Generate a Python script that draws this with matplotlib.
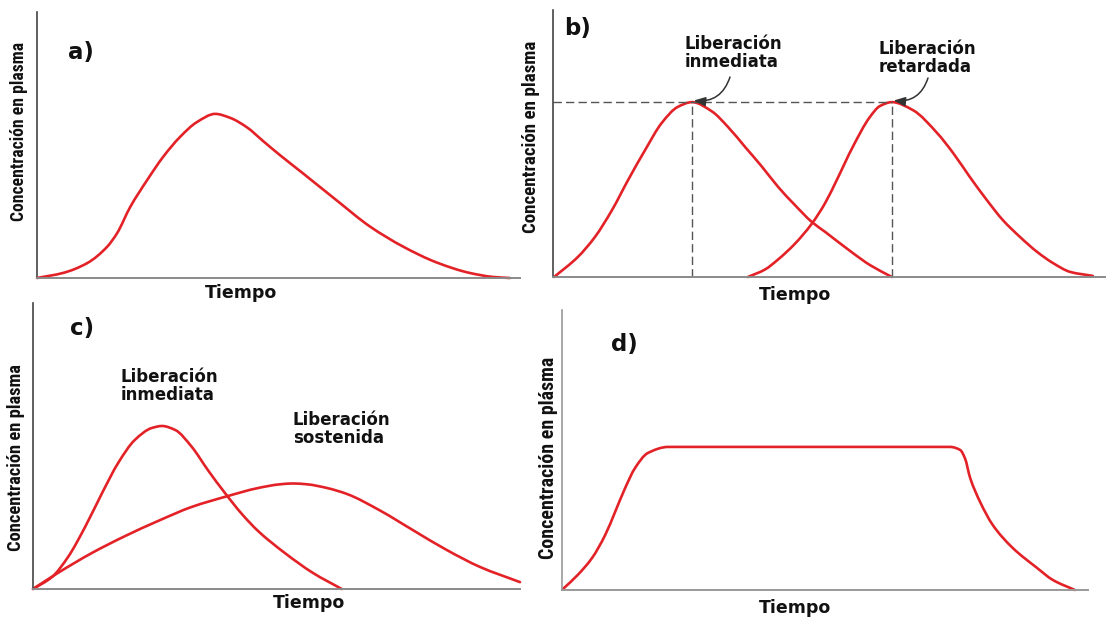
import os
import matplotlib
matplotlib.use("Agg")
import matplotlib.pyplot as plt
from matplotlib import font_manager
from matplotlib.path import Path
from matplotlib.patches import PathPatch
from matplotlib.textpath import TextPath

W, H = 1110, 617

# ---------------- data (time 0-100, concentration 0-100) ----------------
a_t = [0, 5.4, 10.4, 14.5, 16.6, 19.3, 22.8, 26.1, 29.6, 33.1, 36.9, 40.0, 43.5,
       46.8, 50.3, 55.1, 62.1, 68.9, 75.8, 82.8, 89.6, 94.4, 97.9]
a_c = [0, 1.9, 5.6, 11.7, 16.9, 26.7, 36.8, 45.5, 53.0, 58.6, 61.7, 60.2, 56.6,
       51.5, 46.2, 39.3, 29.1, 19.4, 11.8, 5.8, 1.9, 0.4, 0]

b_imm_t = [0.2, 4.5, 7.6, 10.7, 13.6, 16.7, 19.7, 22.6, 25.2, 28.8, 31.7, 34.8,
           37.9, 40.8, 43.8, 46.9, 49.3, 54.3, 57.4, 61.4]
b_imm_c = [0, 7.5, 15.0, 25.1, 36.3, 47.6, 57.7, 63.7, 65.5, 62.0, 56.2, 48.7,
           41.2, 33.7, 27.0, 20.6, 16.9, 9.0, 4.5, 0]
b_del_t = [35.3, 38.4, 40.8, 43.8, 46.9, 49.3, 51.4, 54.3, 57.4, 59.2, 61.4,
           65.2, 69.6, 72.5, 75.5, 78.6, 81.5, 84.6, 87.7, 90.6, 93.7, 97.8]
b_del_c = [0, 2.8, 6.6, 12.4, 20.0, 27.7, 36.3, 48.7, 59.9, 64.0, 65.5,
           62.5, 53.9, 46.4, 37.5, 28.8, 21.3, 15.0, 9.4, 5.2, 1.9, 0.4]

c_imm_t = [0, 3.9, 7.2, 10.7, 14.2, 17.5, 20.9, 24.4, 26.5, 29.2, 32.6, 35.9,
           39.4, 42.9, 46.2, 51.7, 57.5, 63.4]
c_imm_c = [0, 4.2, 11.2, 21.7, 33.6, 44.1, 52.1, 56.3, 57.0, 55.6, 49.7, 41.6,
           33.6, 26.2, 20.3, 12.6, 5.6, 0]
c_sus_t = [0, 5.1, 12.1, 18.9, 25.7, 32.6, 40.0, 46.2, 50.7, 53.4, 56.3, 60.4,
           64.5, 71.3, 78.0, 85.0, 91.8, 100]
c_sus_c = [0, 5.6, 12.6, 18.5, 23.8, 28.7, 32.5, 35.3, 36.6, 36.9, 36.6, 35.3,
           33.2, 27.4, 20.6, 13.6, 7.7, 2.4]

d_t = [0.2, 3.0, 5.7, 8.2, 10.1, 12.0, 13.9, 16.3, 20.2, 73.8, 75.7,
       76.6, 77.6, 79.5, 81.9, 85.7, 90.3, 93.3, 97.5]
d_c = [0.4, 5.4, 11.4, 19.6, 27.9, 36.4, 43.6, 48.9, 51.1, 51.1, 50.0,
       47.1, 40.0, 31.4, 23.2, 15.0, 7.9, 3.6, 0]

panel_labels = ["a)", "b)", "c)", "d)"]
ylabels = ["Concentración en plasma", "Concentración en plasma",
           "Concentración en plasma", "Concentración en plásma"]
xlabel = "Tiempo"
b_texts = ["Liberación\ninmediata", "Liberación\nretardada"]
c_texts = ["Liberación\ninmediata", "Liberación\nsostenida"]

# ---------------- fonts ----------------
RED = "#e32228"
BOLD = "DejaVu Sans"


def candidate_fonts():
    out = []
    for f in font_manager.findSystemFonts():
        b = os.path.basename(f).lower()
        if not b.endswith((".ttf", ".otf")):
            continue
        if "italic" in b or "oblique" in b:
            continue
        if ("narrow" in b or "condensed" in b) and "bold" in b and \
                "semi" not in b and "extra" not in b and "light" not in b:
            out.append(font_manager.FontProperties(fname=f))
    out.append(font_manager.FontProperties(family="Liberation Sans",
                                           weight="bold"))
    return out


def pick_label_font(text, target_ratio=14.3):
    best, best_err = None, None
    for fp in candidate_fonts():
        try:
            w = TextPath((0, 0), text, prop=fp, size=10).get_extents().width
            ch = TextPath((0, 0), "H", prop=fp, size=10).get_extents().height
        except Exception:
            continue
        if ch <= 0:
            continue
        err = abs(w / ch - target_ratio)
        if best is None or err < best_err:
            best, best_err = fp, err
    return best


label_fp = pick_label_font(ylabels[0])

fig = plt.figure(figsize=(W / 100, H / 100), dpi=100)
fig.patch.set_facecolor("white")


def px_axes(l, t, r, b):
    return fig.add_axes([l / W, 1 - b / H, (r - l) / W, (b - t) / H])


def ftext(x, y, s, **kw):
    return fig.text(x / W, 1 - y / H, s, **kw)


def style(ax, left_col="#444444", bottom_col="#8a8a8a"):
    ax.set_xlim(0, 100)
    ax.set_ylim(0, 100)
    for s in ["top", "right"]:
        ax.spines[s].set_visible(False)
    ax.spines["left"].set_color(left_col)
    ax.spines["bottom"].set_color(bottom_col)
    ax.spines["left"].set_linewidth(1.2)
    ax.spines["bottom"].set_linewidth(1.4)
    ax.set_xticks([])
    ax.set_yticks([])
    ax.patch.set_alpha(0)


def smooth_curve(ax, xs, ys, **kw):
    """Smooth monotone (PCHIP-style) cubic Bezier line through the points."""
    n = len(xs)
    h = [xs[i + 1] - xs[i] for i in range(n - 1)]
    d = [(ys[i + 1] - ys[i]) / h[i] for i in range(n - 1)]
    m = [0.0] * n
    m[0], m[-1] = d[0], d[-1]
    for i in range(1, n - 1):
        if d[i - 1] * d[i] <= 0:
            m[i] = 0.0
        else:
            w1 = 2 * h[i] + h[i - 1]
            w2 = h[i] + 2 * h[i - 1]
            m[i] = (w1 + w2) / (w1 / d[i - 1] + w2 / d[i])
    verts = [(xs[0], ys[0])]
    codes = [Path.MOVETO]
    for i in range(n - 1):
        dx = h[i] / 3
        verts += [(xs[i] + dx, ys[i] + m[i] * dx),
                  (xs[i + 1] - dx, ys[i + 1] - m[i + 1] * dx),
                  (xs[i + 1], ys[i + 1])]
        codes += [Path.CURVE4] * 3
    patch = PathPatch(Path(verts, codes), fill=False, transform=ax.transData,
                      capstyle="round", joinstyle="round", **kw)
    patch.set_clip_on(False)
    ax.add_patch(patch)
    return patch


lw = 1.9
# panel a
axa = px_axes(37, 12, 520, 278)
style(axa)
smooth_curve(axa, a_t, a_c, edgecolor=RED, lw=lw)

# panel b
axb = px_axes(553, 10, 1105, 277)
style(axb)
i1 = b_imm_c.index(max(b_imm_c))
i2 = b_del_c.index(max(b_del_c))
p1x, p1y = b_imm_t[i1], b_imm_c[i1]
p2x, p2y = b_del_t[i2], b_del_c[i2]
dash = dict(color="#555555", lw=1.0, dashes=(6, 3))
axb.plot([0, p2x], [p1y, p2y], **dash)
axb.plot([p1x, p1x], [0, p1y], **dash)
axb.plot([p2x, p2x], [0, p2y], **dash)
smooth_curve(axb, b_imm_t, b_imm_c, edgecolor=RED, lw=lw)
smooth_curve(axb, b_del_t, b_del_c, edgecolor=RED, lw=lw)
for (px, py), (tx, ty) in zip([(p1x, p1y), (p2x, p2y)], [(730, 77), (928, 78)]):
    axb.annotate("", xy=(px + 0.3, py + 0.6), xycoords="data",
                 xytext=(tx / W, 1 - ty / H), textcoords="figure fraction",
                 arrowprops=dict(arrowstyle="-|>,head_length=0.7,head_width=0.28",
                                 color="#333333", lw=1.1,
                                 connectionstyle="arc3,rad=-0.4",
                                 shrinkA=0, shrinkB=0))

# panel c
axc = px_axes(33, 303, 520, 589)
style(axc)
smooth_curve(axc, c_imm_t, c_imm_c, edgecolor=RED, lw=lw)
smooth_curve(axc, c_sus_t, c_sus_c, edgecolor=RED, lw=lw)

# panel d
axd = px_axes(562, 310, 1088, 590)
style(axd, left_col="#999999", bottom_col="#999999")
smooth_curve(axd, d_t, d_c, edgecolor=RED, lw=lw)

# ---------------- texts ----------------
tb = dict(family=BOLD, weight="bold", color="#111111")
for s, (x, y) in zip(panel_labels, [(81, 52), (578, 29), (82, 328), (624, 345)]):
    ftext(x, y, s, fontsize=16.5, ha="center", va="center", **tb)
for x, y in [(241, 293), (795, 295), (309, 603), (795, 608)]:
    ftext(x, y, xlabel, fontsize=12.5, ha="center", va="center", **tb)

renderer = fig.canvas.get_renderer()
# y labels: (x centre, y top, y bottom) in pixels
for s, (x, y0, y1) in zip(ylabels, [(19, 42, 221), (531, 41, 233),
                                    (16, 364, 551), (548, 357, 559)]):
    fp = label_fp.copy()
    fp.set_size(12)
    t = ftext(x, (y0 + y1) / 2, s, fontproperties=fp, rotation=90,
              ha="center", va="center", color="#111111")
    ext = t.get_window_extent(renderer)
    fp2 = fp.copy()
    fp2.set_size(12 * (y1 - y0) / ext.height)
    t.set_fontproperties(fp2)

for s, (x, y) in zip(b_texts, [(685, 53), (879, 58)]):
    ftext(x, y, s, fontsize=12, ha="left", va="center", linespacing=0.95, **tb)
for s, (x, y) in zip(c_texts, [(121, 386), (293, 429)]):
    ftext(x, y, s, fontsize=12, ha="left", va="center", linespacing=0.95, **tb)

fig.savefig("out.png", dpi=100, facecolor="white")
